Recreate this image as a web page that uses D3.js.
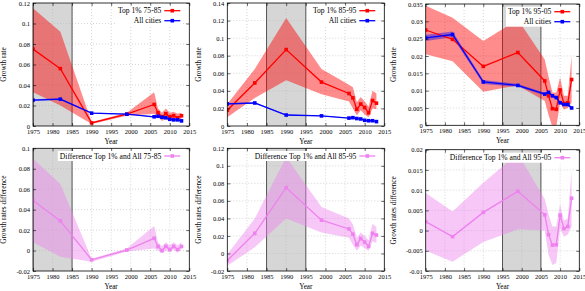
<!DOCTYPE html>
<html><head><meta charset="utf-8">
<script src="https://cdn.jsdelivr.net/npm/d3@7"></script>
<style>body{margin:0;background:#fff} svg{display:block}</style>
</head><body><svg id="c" width="585" height="291"></svg>
<script>
// ---------- data ----------
const years = [1975,1982,1990,1999,2006,2007,2008,2009,2010,2011,2012,2013];
const xTicks = [1975,1980,1985,1990,1995,2000,2005,2010,2015];

const allCities   = [0.0252,0.0262,0.0125,0.0115,0.0090,0.0095,0.0085,0.0080,0.0065,0.0060,0.0060,0.0050];
const allCitiesLo = [0.0243,0.0254,0.0119,0.0111,0.0086,0.0091,0.0081,0.0076,0.0061,0.0056,0.0056,0.0046];
const allCitiesHi = [0.0261,0.0271,0.0131,0.0119,0.0094,0.0099,0.0089,0.0084,0.0069,0.0064,0.0064,0.0054];

const top7585   = [0.075,0.056,0.003,0.0115,0.021,0.013,0.009,0.012,0.009,0.010,0.008,0.010];
const top7585Lo = [0.033,0.020,0.002,0.0100,0.012,0.009,0.005,0.007,0.005,0.006,0.005,0.007];
const top7585Hi = [0.115,0.092,0.004,0.0130,0.033,0.017,0.013,0.017,0.013,0.014,0.012,0.013];

const top8595   = [0.018,0.049,0.087,0.050,0.037,0.032,0.019,0.025,0.021,0.015,0.029,0.026];
const top8595Lo = [0.010,0.032,0.052,0.036,0.028,0.020,0.012,0.018,0.013,0.010,0.020,0.019];
const top8595Hi = [0.025,0.065,0.123,0.065,0.047,0.044,0.027,0.033,0.028,0.022,0.040,0.037];

const top9505   = [0.0275,0.0248,0.0170,0.0210,0.0128,0.0085,0.0048,0.0046,0.0102,0.0063,0.0065,0.0132];
const top9505Lo = [0.0205,0.0185,0.0097,0.0115,0.0070,0.0030,-0.0005,-0.0005,0.0065,0.0045,0.0050,0.0065];
const top9505Hi = [0.0345,0.0310,0.0243,0.0305,0.0190,0.0140,0.0095,0.0095,0.0138,0.0085,0.0085,0.0200];

const diff7585   = [0.049,0.029,-0.009,0.0005,0.012,0.004,0.000,0.004,0.001,0.004,0.001,0.004];
const diff7585Lo = [0.008,-0.006,-0.011,-0.001,0.002,0.000,-0.003,0.000,-0.002,0.001,-0.002,0.001];
const diff7585Hi = [0.090,0.065,-0.008,0.002,0.024,0.008,0.004,0.008,0.005,0.008,0.005,0.008];

const diff8595   = [-0.008,0.023,0.075,0.038,0.028,0.022,0.010,0.017,0.013,0.008,0.023,0.021];
const diff8595Lo = [-0.014,0.007,0.040,0.024,0.018,0.010,0.003,0.009,0.006,0.003,0.014,0.012];
const diff8595Hi = [-0.001,0.040,0.110,0.053,0.040,0.033,0.018,0.024,0.020,0.015,0.034,0.030];

const diff9505   = [0.0022,-0.0015,0.0045,0.0097,0.0039,-0.0010,-0.0036,-0.0035,0.0038,0.0005,0.0010,0.0080];
const diff9505Lo = [-0.0050,-0.0077,-0.0028,0.0003,0.0000,-0.0060,-0.0085,-0.0080,0.0005,-0.0015,-0.0010,0.0010];
const diff9505Hi = [0.0093,0.0047,0.0118,0.0190,0.0078,0.0040,0.0010,0.0010,0.0065,0.0025,0.0030,0.0150];

const yTicksTop1 = d3.range(0, 0.1201, 0.02);
const yTicksTop2 = d3.range(0, 0.1401, 0.02);
const yTicksTop3 = d3.range(0, 0.03501, 0.005);
const yTicksBot1 = d3.range(-0.02, 0.1001, 0.02);
const yTicksBot2 = d3.range(-0.02, 0.1201, 0.02);
const yTicksBot3 = d3.range(-0.01, 0.02001, 0.005);

const legendTop = ["Top 1% 75-85","Top 1% 85-95","Top 1% 95-05"];
const legendAll = "All cities";
const legendDiff = ["Difference Top 1% and All 75-85","Difference Top 1% and All 85-95","Difference Top 1% and All 95-05"];
const shades = [[1975,1985],[1985,1995],[1995,2005]];

// ---------- drawing ----------
const svg = d3.select("#c");
const FONT = "Liberation Serif, Times New Roman, serif";
const RED = "#ff0000", BLUE = "#0000ff", VIO = "#ee82ee";
let clipId = 0;

function fmt(d){ return String(+d.toFixed(4)); }

function panel(cfg){
  const g = svg.append("g");
  const x = d3.scaleLinear().domain([1975,2015]).range([cfg.x0,cfg.x1]);
  const y = d3.scaleLinear().domain([cfg.yTicks[0], cfg.yTicks[cfg.yTicks.length-1]]).range([cfg.y1,cfg.y0]);
  const id = "clip"+(clipId++);
  g.append("clipPath").attr("id",id).append("rect")
    .attr("x",cfg.x0).attr("y",cfg.y0).attr("width",cfg.x1-cfg.x0).attr("height",cfg.y1-cfg.y0);
  const pg = g.append("g").attr("clip-path",`url(#${id})`);

  pg.append("rect").attr("x",x(cfg.shade[0])).attr("y",cfg.y0)
    .attr("width",x(cfg.shade[1])-x(cfg.shade[0])).attr("height",cfg.y1-cfg.y0)
    .attr("fill","#d6d6d6");

  pg.selectAll(".gx").data(xTicks.slice(1,-1)).join("line")
    .attr("x1",d=>x(d)).attr("x2",d=>x(d)).attr("y1",cfg.y0).attr("y2",cfg.y1)
    .attr("stroke","#b8b8b8").attr("stroke-width",0.6).attr("stroke-dasharray","1,2");
  pg.selectAll(".gy").data(cfg.yTicks.slice(1,-1)).join("line")
    .attr("y1",d=>y(d)).attr("y2",d=>y(d)).attr("x1",cfg.x0).attr("x2",cfg.x1)
    .attr("stroke","#b8b8b8").attr("stroke-width",0.6).attr("stroke-dasharray","1,2");

  pg.selectAll(".sb").data(cfg.shade).join("line")
    .attr("x1",d=>x(d)).attr("x2",d=>x(d)).attr("y1",cfg.y0).attr("y2",cfg.y1)
    .attr("stroke","#555").attr("stroke-width",1);

  cfg.series.forEach(s=>{
    const area = d3.area().x((d,i)=>x(years[i])).y0((d,i)=>y(s.lo[i])).y1((d,i)=>y(s.hi[i]));
    pg.append("path").datum(s.v).attr("d",area).attr("fill",s.color).attr("fill-opacity",s.op);
  });
  cfg.series.forEach(s=>{
    const line = d3.line().x((d,i)=>x(years[i])).y(d=>y(d));
    pg.append("path").datum(s.v).attr("d",line).attr("fill","none").attr("stroke",s.color).attr("stroke-width",1.3);
    pg.selectAll(null).data(s.v).join("rect")
      .attr("x",(d,i)=>x(years[i])-1.8).attr("y",d=>y(d)-1.8).attr("width",3.6).attr("height",3.6).attr("fill",s.color);
  });

  const tk = 3;
  const ax = (a)=>a.tickSizeOuter(0);
  const gb = g.append("g").attr("transform",`translate(0,${cfg.y1})`)
    .call(ax(d3.axisBottom(x).tickValues(xTicks).tickFormat(d3.format("d")).tickSizeInner(-tk).tickPadding(3)));
  const gt = g.append("g").attr("transform",`translate(0,${cfg.y0})`)
    .call(ax(d3.axisTop(x).tickValues(xTicks).tickFormat("").tickSizeInner(-tk)));
  const gl = g.append("g").attr("transform",`translate(${cfg.x0},0)`)
    .call(ax(d3.axisLeft(y).tickValues(cfg.yTicks).tickFormat(fmt).tickSizeInner(-tk).tickPadding(3)));
  const gr = g.append("g").attr("transform",`translate(${cfg.x1},0)`)
    .call(ax(d3.axisRight(y).tickValues(cfg.yTicks).tickFormat("").tickSizeInner(-tk)));
  [gb,gt,gl,gr].forEach(a=>{
    a.select(".domain").remove();
    a.selectAll("line").attr("stroke","#000").attr("stroke-width",0.6);
    a.selectAll("text").attr("font-family",FONT).attr("font-size",6.5).attr("fill","#000");
  });
  g.append("rect").attr("x",cfg.x0).attr("y",cfg.y0).attr("width",cfg.x1-cfg.x0).attr("height",cfg.y1-cfg.y0)
    .attr("fill","none").attr("stroke","#000").attr("stroke-width",0.8);

  g.append("text").attr("x",(cfg.x0+cfg.x1)/2).attr("y",cfg.y1+17.5).attr("text-anchor","middle")
    .attr("font-family",FONT).attr("font-size",7.2).text("Year");
  g.append("text").attr("transform",`translate(${cfg.ylx},${(cfg.y0+cfg.y1)/2}) rotate(-90)`)
    .attr("text-anchor","middle").attr("font-family",FONT).attr("font-size",7.2).text(cfg.ylab);

  const lg = g.append("g");
  const tEnd = cfg.x1 - 28, sx0 = tEnd + 3, sx1 = cfg.x1 - 9;
  const rows = cfg.series.map((s,i)=>({s, yy: cfg.legY + i*10}));
  const texts = rows.map(r => lg.append("text").attr("x",tEnd).attr("y",r.yy+2.5).attr("text-anchor","end")
      .attr("font-family",FONT).attr("font-size",7.6).text(r.s.name));
  let minX = tEnd;
  texts.forEach(t=>{ const b=t.node().getBBox(); minX=Math.min(minX,b.x); });
  lg.insert("rect",":first-child").attr("x",minX-2).attr("y",cfg.legY-5)
    .attr("width",sx1+2-(minX-2)).attr("height",rows.length*10).attr("fill","#fff");
  rows.forEach(r=>{
    lg.append("line").attr("x1",sx0).attr("x2",sx1).attr("y1",r.yy).attr("y2",r.yy)
      .attr("stroke",r.s.color).attr("stroke-width",1.3);
    lg.append("rect").attr("x",(sx0+sx1)/2-1.8).attr("y",r.yy-1.8).attr("width",3.6).attr("height",3.6).attr("fill",r.s.color);
  });
}

const colsX = [[33,189.3,6],[227.3,384.3,201],[425.7,579.3,396]];
const topSets = [[top7585,top7585Lo,top7585Hi,yTicksTop1],[top8595,top8595Lo,top8595Hi,yTicksTop2],[top9505,top9505Lo,top9505Hi,yTicksTop3]];
const botSets = [[diff7585,diff7585Lo,diff7585Hi,yTicksBot1],[diff8595,diff8595Lo,diff8595Hi,yTicksBot2],[diff9505,diff9505Lo,diff9505Hi,yTicksBot3]];

for(let c=0;c<3;c++){
  const [x0,x1,ylx] = colsX[c];
  const t = topSets[c];
  panel({x0,x1,ylx, y0: c===2?4:3, y1: c===2?125.3:126, yTicks:t[3], shade:shades[c], ylab:"Growth rate",
    legY: c===2?11.7:10.7,
    series:[
      {name:legendTop[c], v:t[0], lo:t[1], hi:t[2], color:RED, op:0.45},
      {name:legendAll, v:allCities, lo:allCitiesLo, hi:allCitiesHi, color:BLUE, op:0.4}
    ]});
  const b = botSets[c];
  panel({x0,x1,ylx, y0: c===2?149.7:148.3, y1:271, yTicks:b[3], shade:shades[c], ylab:"Growth rates difference",
    legY: c===2?157.7:156,
    series:[
      {name:legendDiff[c], v:b[0], lo:b[1], hi:b[2], color:VIO, op:0.45}
    ]});
}
</script></body></html>
